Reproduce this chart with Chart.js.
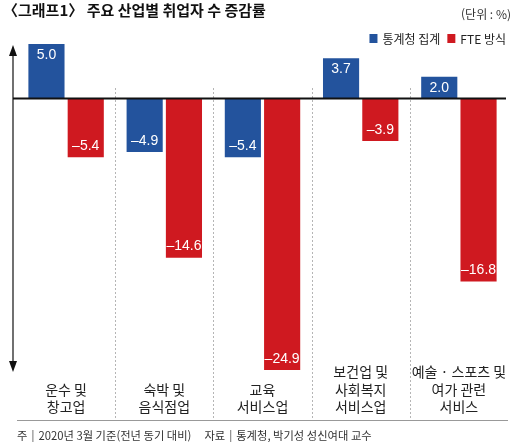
<!DOCTYPE html>
<html lang="ko">
<head>
<meta charset="utf-8">
<script src="https://cdn.jsdelivr.net/npm/chart.js@4.4.1/dist/chart.umd.min.js"></script>
<style>
  html, body { margin: 0; padding: 0; background: #fff; }
  canvas { display: block; }
</style>
</head>
<body>
<canvas id="chart" width="520" height="442"></canvas>
<script>
// data
const categories = [
  ['운수 및', '창고업'],
  ['숙박 및', '음식점업'],
  ['교육', '서비스업'],
  ['보건업 및', '사회복지', '서비스업'],
  ['예술 · 스포츠 및', '여가 관련', '서비스']
];
const statValues = [5.0, -4.9, -5.4, 3.7, 2.0];
const fteValues = [-5.4, -14.6, -24.9, -3.9, -16.8];
const seriesNames = ['통계청 집계', 'FTE 방식'];
const seriesColors = ['#23539d', '#cf1920'];
const titleText = '〈그래프1〉 주요 산업별 취업자 수 증감률';
const unitText = '(단위 : %)';
const noteParts = ['주', '2020년 3월 기준(전년 동기 대비)', '자료', '통계청, 박기성 성신여대 교수'];

const KR = '"Noto Sans CJK KR", "Noto Sans", sans-serif';
const NUM = '"Liberation Sans", Arial, sans-serif';

function fmt(v) {
  const s = Math.abs(v).toFixed(1);
  return v < 0 ? '\u2013' + s : s;
}

const decorPlugin = {
  id: 'decor',
  beforeDatasetsDraw(chart) {
    const ctx = chart.ctx;
    const x = chart.scales.x;
    const area = chart.chartArea;
    ctx.save();
    // dotted separators between categories
    ctx.strokeStyle = '#b5b5b5';
    ctx.lineWidth = 1;
    ctx.setLineDash([2, 2]);
    for (let i = 0; i < categories.length - 1; i++) {
      const sx = Math.round((x.getPixelForValue(i) + x.getPixelForValue(i + 1)) / 2) + 0.5;
      ctx.beginPath();
      ctx.moveTo(sx, 88);
      ctx.lineTo(sx, 420);
      ctx.stroke();
    }
    ctx.setLineDash([]);
    // bottom rule
    ctx.strokeStyle = '#999';
    ctx.beginPath();
    ctx.moveTo(area.left, 420.5);
    ctx.lineTo(area.right, 420.5);
    ctx.stroke();
    ctx.restore();
  },
  afterDatasetsDraw(chart) {
    const ctx = chart.ctx;
    const x = chart.scales.x;
    const y = chart.scales.y;
    const area = chart.chartArea;
    ctx.save();

    // value labels inside bar ends
    ctx.font = '14px ' + NUM;
    ctx.fillStyle = '#fff';
    ctx.textAlign = 'center';
    ctx.textBaseline = 'middle';
    chart.data.datasets.forEach((ds, di) => {
      chart.getDatasetMeta(di).data.forEach((bar, i) => {
        const v = ds.data[i];
        const ty = v >= 0 ? bar.y + 11 : bar.y - 11;
        ctx.fillText(fmt(v), bar.x, ty);
      });
    });

    // zero line
    const zy = y.getPixelForValue(0);
    ctx.strokeStyle = '#111';
    ctx.lineWidth = 2;
    ctx.beginPath();
    ctx.moveTo(13, zy);
    ctx.lineTo(area.right - 2, zy);
    ctx.stroke();

    // vertical double arrow
    const ax = 13;
    const top = 45, bot = 372;
    ctx.lineWidth = 1.2;
    ctx.beginPath();
    ctx.moveTo(ax, top + 6);
    ctx.lineTo(ax, bot - 6);
    ctx.stroke();
    ctx.fillStyle = '#111';
    ctx.beginPath();
    ctx.moveTo(ax, top);
    ctx.lineTo(ax - 4, top + 11);
    ctx.lineTo(ax + 4, top + 11);
    ctx.closePath();
    ctx.fill();
    ctx.beginPath();
    ctx.moveTo(ax, bot);
    ctx.lineTo(ax - 4, bot - 11);
    ctx.lineTo(ax + 4, bot - 11);
    ctx.closePath();
    ctx.fill();

    // category labels, bottom aligned
    ctx.font = '14px ' + KR;
    ctx.fillStyle = '#222';
    ctx.textAlign = 'center';
    ctx.textBaseline = 'middle';
    categories.forEach((lines, i) => {
      const cx = x.getPixelForValue(i);
      const n = lines.length;
      lines.forEach((ln, j) => {
        ctx.fillText(ln, cx, 407 - (n - 1 - j) * 17.5);
      });
    });

    // title
    ctx.textAlign = 'left';
    ctx.font = 'bold 15px ' + KR;
    ctx.fillStyle = '#111';
    ctx.fillText(titleText, 3, 10);

    // unit
    ctx.textAlign = 'right';
    ctx.font = '12px ' + KR;
    ctx.fillStyle = '#333';
    ctx.fillText(unitText, 511, 14);

    // legend
    ctx.font = '12px ' + KR;
    ctx.textAlign = 'left';
    let lx = 506;
    const legendItems = [];
    for (let k = seriesNames.length - 1; k >= 0; k--) {
      const w = ctx.measureText(seriesNames[k]).width;
      lx -= w;
      legendItems.unshift({ k, tx: lx });
      lx -= 13;
      legendItems[0].bx = lx;
      lx -= 7;
    }
    legendItems.forEach(it => {
      ctx.fillStyle = seriesColors[it.k];
      ctx.fillRect(it.bx, 34, 8, 9);
      ctx.fillStyle = '#222';
      ctx.fillText(seriesNames[it.k], it.tx, 39);
    });

    // note
    ctx.font = '11.3px ' + KR;
    ctx.fillStyle = '#333';
    let nx = 17;
    const ny = 436;
    const drawPart = (s) => { ctx.fillText(s, nx, ny); nx += ctx.measureText(s).width; };
    const drawBar = () => {
      ctx.fillStyle = '#777';
      ctx.fillRect(nx + 5, ny - 6, 1, 12);
      ctx.fillStyle = '#333';
      nx += 11;
    };
    drawPart(noteParts[0]); drawBar(); drawPart(noteParts[1]);
    nx += 13;
    drawPart(noteParts[2]); drawBar(); drawPart(noteParts[3]);

    ctx.restore();
  }
};

new Chart(document.getElementById('chart'), {
  type: 'bar',
  data: {
    labels: categories,
    datasets: [
      { label: seriesNames[0], data: statValues, backgroundColor: seriesColors[0] },
      { label: seriesNames[1], data: fteValues, backgroundColor: seriesColors[1] }
    ]
  },
  options: {
    responsive: false,
    animation: false,
    events: [],
    layout: { padding: { left: 17, right: 12, top: 44, bottom: 71 } },
    datasets: { bar: { categoryPercentage: 0.8, barPercentage: 0.92, borderWidth: 0 } },
    plugins: { legend: { display: false }, tooltip: { enabled: false }, title: { display: false } },
    scales: {
      x: { display: false },
      y: { display: false, min: -25, max: 5 }
    }
  },
  plugins: [decorPlugin]
});
</script>
</body>
</html>
